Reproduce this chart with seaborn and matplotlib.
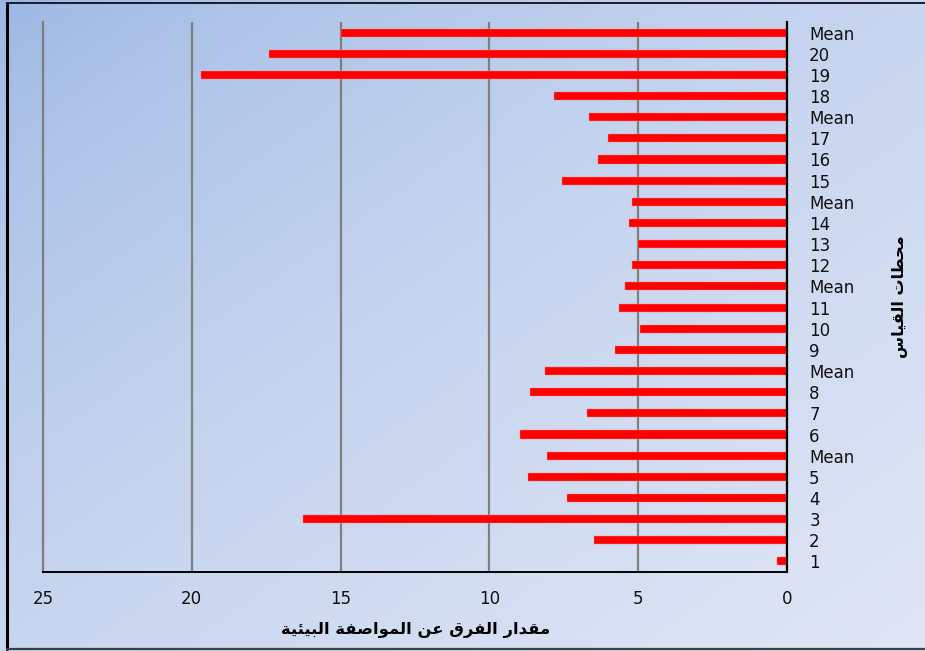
import numpy as np
import pandas as pd
import matplotlib
matplotlib.use("Agg")
import matplotlib.pyplot as plt
from matplotlib.lines import Line2D
import seaborn as sns

# Stations listed top to bottom, with a group mean after each block
stations = ["Mean", "20", "19", "18", "Mean", "17", "16", "15", "Mean", "14",
            "13", "12", "Mean", "11", "10", "9", "Mean", "8", "7", "6",
            "Mean", "5", "4", "3", "2", "1"]
differences = [15.0, 17.4, 19.7, 7.82, 6.66, 6.03, 6.34, 7.56, 5.2, 5.32,
               5.0, 5.2, 5.44, 5.63, 4.94, 5.77, 8.13, 8.64, 6.72, 8.96,
               8.06, 8.7, 7.4, 16.25, 6.47, 0.34]
x_ticks = [0, 5, 10, 15, 20, 25]

x_title = "مقدار الفرق عن المواصفة البيئية"
y_title = "محطات القياس"

# --- minimal Arabic contextual shaping (presentation forms, visual order) ---
FORMS = {
    "ا": ("\uFE8D", "\uFE8E", None, None),
    "ب": ("\uFE8F", "\uFE90", "\uFE91", "\uFE92"),
    "ة": ("\uFE93", "\uFE94", None, None),
    "ت": ("\uFE95", "\uFE96", "\uFE97", "\uFE98"),
    "ح": ("\uFEA1", "\uFEA2", "\uFEA3", "\uFEA4"),
    "د": ("\uFEA9", "\uFEAA", None, None),
    "ر": ("\uFEAD", "\uFEAE", None, None),
    "س": ("\uFEB1", "\uFEB2", "\uFEB3", "\uFEB4"),
    "ص": ("\uFEB9", "\uFEBA", "\uFEBB", "\uFEBC"),
    "ط": ("\uFEC1", "\uFEC2", "\uFEC3", "\uFEC4"),
    "ع": ("\uFEC9", "\uFECA", "\uFECB", "\uFECC"),
    "ف": ("\uFED1", "\uFED2", "\uFED3", "\uFED4"),
    "ق": ("\uFED5", "\uFED6", "\uFED7", "\uFED8"),
    "ل": ("\uFEDD", "\uFEDE", "\uFEDF", "\uFEE0"),
    "م": ("\uFEE1", "\uFEE2", "\uFEE3", "\uFEE4"),
    "ن": ("\uFEE5", "\uFEE6", "\uFEE7", "\uFEE8"),
    "و": ("\uFEED", "\uFEEE", None, None),
    "ي": ("\uFEF1", "\uFEF2", "\uFEF3", "\uFEF4"),
    "ئ": ("\uFE89", "\uFE8A", "\uFE8B", "\uFE8C"),
}


def shape_arabic(text):
    out = []
    for i, ch in enumerate(text):
        if ch not in FORMS:
            out.append(ch)
            continue
        prev = text[i - 1] if i > 0 else None
        nxt = text[i + 1] if i + 1 < len(text) else None
        joins_prev = prev in FORMS and FORMS[prev][2] is not None
        joins_next = FORMS[ch][2] is not None and nxt in FORMS
        iso, fin, ini, med = FORMS[ch]
        if joins_prev and joins_next:
            out.append(med)
        elif joins_prev:
            out.append(fin)
        elif joins_next:
            out.append(ini)
        else:
            out.append(iso)
    return "".join(out)[::-1]


df = pd.DataFrame({
    "row": [f"r{i}" for i in range(len(stations))],
    "station": stations,
    "difference": differences,
})

sns.set_theme(style="white")
plt.rcParams["font.family"] = ["DejaVu Sans"]

W, H = 925, 651
fig = plt.figure(figsize=(W / 100, H / 100), dpi=100)

# soft diagonal blue gradient behind everything
bg = fig.add_axes([0, 0, 1, 1], zorder=-10)
yy, xx = np.mgrid[0:1:200j, 0:1:280j]
t = np.clip((xx + yy) / 2.0, 0, 1) ** 0.6
c0 = np.array([152, 181, 227]) / 255.0
c1 = np.array([224, 230, 245]) / 255.0
img = c0[None, None, :] + (c1 - c0)[None, None, :] * t[..., None]
bg.imshow(img, aspect="auto", extent=[0, 1, 0, 1], origin="upper")
bg.set_axis_off()

ax = fig.add_axes([43 / W, 1 - 572 / H, (787 - 43) / W, (572 - 22) / H], zorder=1)
ax.set_facecolor("none")

sns.barplot(data=df, x="difference", y="row", orient="h", color="#ff0000",
            width=0.38, edgecolor="#ff8080", linewidth=0.3, saturation=1,
            ax=ax)

ax.set_xlim(25, 0)
ax.set_xticks(x_ticks)
ax.set_xticklabels([str(v) for v in x_ticks], fontsize=12, color="#111111")
ax.tick_params(axis="x", length=0, pad=13)

ax.yaxis.tick_right()
ax.set_yticks(range(len(stations)))
ax.set_yticklabels(stations, fontsize=12, color="#111111")
ax.tick_params(axis="y", length=0, pad=16)
for lbl in ax.get_yticklabels():
    lbl.set_horizontalalignment("left")

ax.grid(axis="x", color="#7f7f7f", linewidth=1.6)
ax.set_axisbelow(True)
ax.set_xlabel("")
ax.set_ylabel("")

ax.spines["top"].set_visible(False)
ax.spines["left"].set_color("#7f7f7f")
ax.spines["left"].set_linewidth(1.6)
ax.spines["right"].set_color("black")
ax.spines["right"].set_linewidth(1.6)
ax.spines["bottom"].set_color("black")
ax.spines["bottom"].set_linewidth(1.4)

fig.text(416 / W, 1 - 630 / H, shape_arabic(x_title), ha="center", va="center",
         fontsize=11.8, fontweight="bold", color="black")
fig.text(900 / W, 1 - 297 / H, shape_arabic(y_title), ha="center", va="center",
         rotation=90, fontsize=11.5, fontweight="bold", color="black")

# outer chart frame: heavy left edge, thin top and bottom edges
fx0, fy0, fy1 = 6.5 / W, 1 - 648.5 / H, 1 - 3 / H
fig.add_artist(Line2D([fx0, fx0], [fy0, fy1], transform=fig.transFigure,
                      color="black", linewidth=2.2))
fig.add_artist(Line2D([fx0, 1], [fy1, fy1], transform=fig.transFigure,
                      color="#1a1a2a", linewidth=1.4))
fig.add_artist(Line2D([fx0, 1], [fy0, fy0], transform=fig.transFigure,
                      color="#404040", linewidth=1.6))

fig.savefig("out.png", dpi=100)
